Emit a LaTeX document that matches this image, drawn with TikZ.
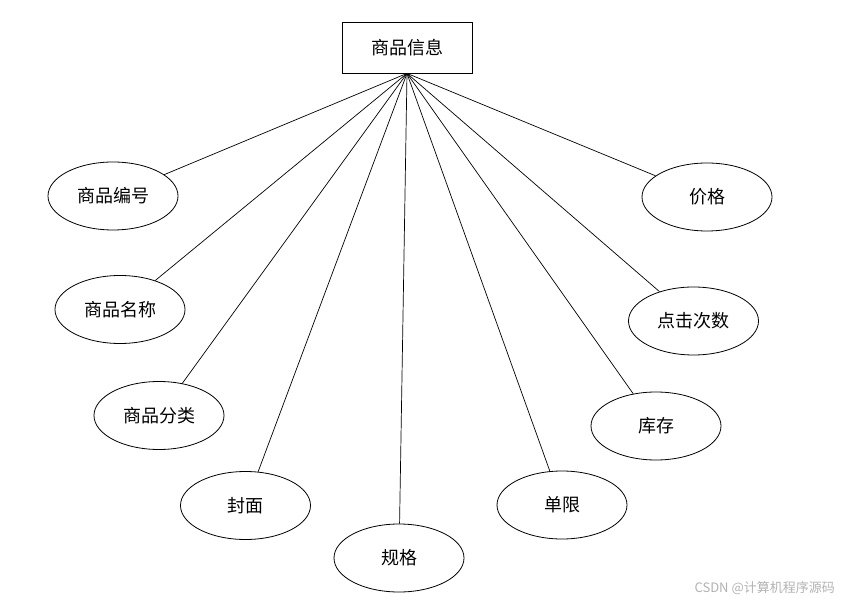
\documentclass[tikz,border=0pt]{standalone}
\usepackage{fontspec}
\usetikzlibrary{shapes.geometric}
\newfontfamily\cjk{Noto Sans CJK SC}
\begin{document}
\begin{tikzpicture}[x=1pt,y=-1pt,
  entity/.style={draw, line width=0.8pt, minimum width=130pt, minimum height=51pt, inner sep=0pt, font=\cjk\fontsize{18}{18}\selectfont},
  attr/.style={draw, ellipse, line width=0.8pt, minimum width=130pt, minimum height=68pt, inner sep=0pt, font=\cjk\fontsize{18}{18}\selectfont},
  link/.style={line width=0.7pt}]
\useasboundingbox (0,0) rectangle (847,604);
\node[entity] (info) at (407,47.5) {商品信息};
\node[attr] (a1) at (113,196) {商品编号};
\node[attr] (a2) at (120,309.5) {商品名称};
\node[attr] (a3) at (159,415.5) {商品分类};
\node[attr] (a4) at (245.5,505.5) {封面};
\node[attr] (a5) at (399,558) {规格};
\node[attr] (a6) at (562,505) {单限};
\node[attr] (a7) at (656,426) {库存};
\node[attr] (a8) at (693.5,321) {点击次数};
\node[attr] (a9) at (707,197) {价格};
\foreach \n in {a1,a2,a3,a4,a5,a6,a7,a8,a9}
  \draw[link] (info.south) -- (\n);
\node[anchor=east, text=black!30, font=\cjk\fontsize{13}{13}\selectfont, inner sep=0pt] (wm) at (835,588) {CSDN @计算机程序源码};
\end{tikzpicture}
\end{document}
